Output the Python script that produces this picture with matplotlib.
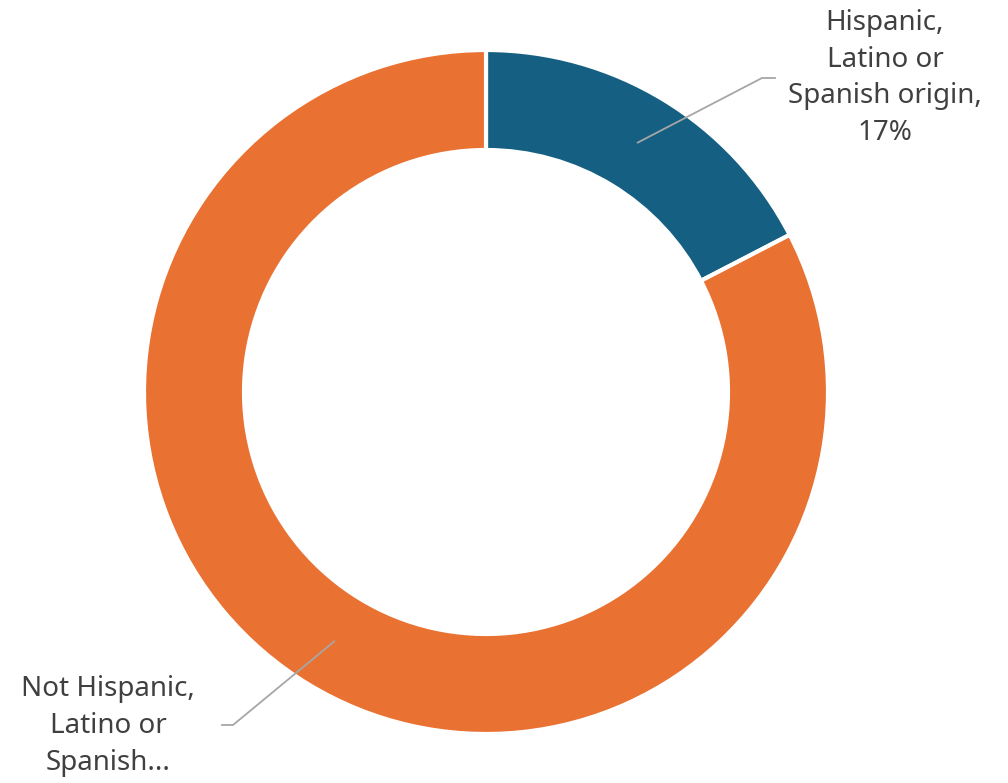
import numpy as np
from matplotlib import pyplot as plt

labels = ['Hispanic,\nLatino or\nSpanish origin,\n17%', 'Not Hispanic,\nLatino or\nSpanish...']
shares = [17.4, 82.6]
colors = ['#156082', '#E97132']

fig = plt.figure(figsize=(10.08, 7.83), dpi=100)
ax = fig.add_axes([0, 0, 1, 1])

cx, cy = 486, 391
r_out, ring = 342, 100
wedges, _ = ax.pie(shares, colors=colors, startangle=90, counterclock=False,
                   radius=r_out, center=(cx, cy),
                   wedgeprops=dict(width=ring, edgecolor='white', linewidth=3))
ax.set_xlim(0, 1008)
ax.set_ylim(0, 783)
ax.set_aspect('equal')
ax.axis('off')

# leader lines from the middle of each ring segment
r_mid = r_out - ring / 2
elbows = [((762, 705), (775, 705)), ((233, 58), (222, 58))]
text_pos = [(885, 705), (108, 57)]
for w, (e1, e2), (tx, ty), lab in zip(wedges, elbows, text_pos, labels):
    ang = np.deg2rad((w.theta1 + w.theta2) / 2)
    ax0 = cx + r_mid * np.cos(ang)
    ay0 = cy + r_mid * np.sin(ang)
    ax.plot([ax0, e1[0], e2[0]], [ay0, e1[1], e2[1]], color='#A6A6A6', lw=1.3)
    ax.text(tx, ty, lab, ha='center', va='center', multialignment='center',
            fontsize=20, color='#404040', family='Noto Sans', linespacing=1.42)

fig.savefig('out.png', dpi=100)
